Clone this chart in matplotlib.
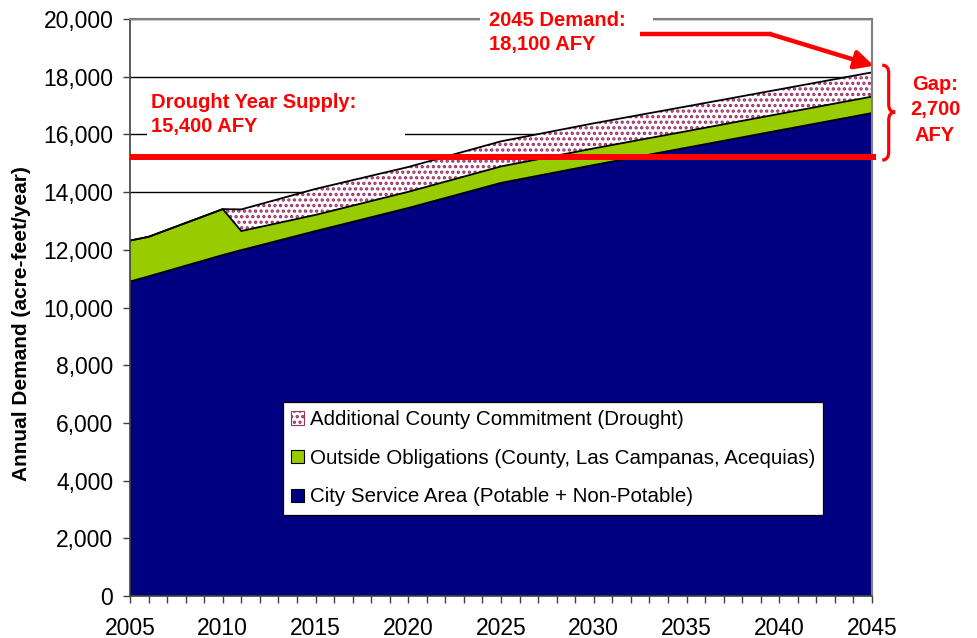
import matplotlib
import matplotlib.pyplot as plt
from matplotlib.patches import Rectangle, PathPatch, Patch
from matplotlib.path import Path
from matplotlib.ticker import FuncFormatter, MultipleLocator

matplotlib.rcParams['font.family'] = ['Liberation Sans', 'DejaVu Sans']
matplotlib.rcParams['hatch.linewidth'] = 1.6

# demand by year (acre-feet/year)
years = [2005, 2006, 2010, 2011, 2015, 2020, 2025, 2030, 2035, 2040, 2045]
city = [10900, 11080, 11820, 11990, 12650, 13450, 14320, 14940, 15540, 16140, 16740]
outside = [1420, 1370, 1590, 660, 560, 560, 570, 575, 570, 570, 570]
additional = [0, 0, 0, 750, 900, 860, 870, 870, 860, 850, 840]

series_names = ['City Service Area (Potable + Non-Potable)',
                'Outside Obligations (County, Las Campanas, Acequias)',
                'Additional County Commitment (Drought)']
supply_level = 15200
red = '#FF0000'
pink = '#993366'

green_top = [c + o for c, o in zip(city, outside)]
total = [g + a for g, a in zip(green_top, additional)]

fig = plt.figure(figsize=(9.77, 6.38), dpi=100)
ax = fig.add_axes([130 / 977, 42 / 638, 742 / 977, 577 / 638])


def fx(px):
    return px / 977


def fy(py):
    return 1 - py / 638


# stacked areas
ax.fill_between(years, 0, city, facecolor='#000080', linewidth=0, zorder=2)
ax.fill_between(years, city, green_top, facecolor='#99CC00', linewidth=0, zorder=2)
ax.fill_between(years, green_top, total, facecolor='white', edgecolor=pink,
                hatch='...', linewidth=0, zorder=2)
ax.plot(years, city, color='black', lw=1.3, zorder=2.2)
ax.plot(years, green_top, color='black', lw=1.3, zorder=2.2)
ax.plot(years, total, color='black', lw=1.3, zorder=2.2)

ax.set_xlim(2005, 2045)
ax.set_ylim(0, 20000)
ax.xaxis.set_major_locator(MultipleLocator(5))
ax.xaxis.set_minor_locator(MultipleLocator(1))
ax.yaxis.set_major_locator(MultipleLocator(2000))
ax.yaxis.set_major_formatter(FuncFormatter(lambda v, p: '{:,.0f}'.format(v)))
ax.tick_params(axis='both', which='both', labelsize=16.5, color='#404040',
               length=5, width=1)
ax.tick_params(axis='x', which='both', pad=10)
ax.tick_params(axis='y', pad=7)
ax.set_axisbelow(True)
ax.grid(axis='y', color='black', lw=1)
for s in ['left', 'bottom']:
    ax.spines[s].set_color('#404040')
    ax.spines[s].set_linewidth(1.2)
for s in ['top', 'right']:
    ax.spines[s].set_color('#808080')
    ax.spines[s].set_linewidth(1.5)

fig.text(fx(22), fy(324), 'Annual Demand (acre-feet/year)', rotation=90,
         ha='center', va='center', fontsize=15, fontweight='bold')

# white text boxes hiding the gridlines
ax.add_patch(Rectangle((fx(147), fy(150)), fx(405) - fx(147), fy(82) - fy(150),
                       transform=fig.transFigure, facecolor='white', edgecolor='none',
                       clip_on=False, zorder=2.7))
ax.add_patch(Rectangle((fx(480), fy(62)), fx(653) - fx(480), fy(4) - fy(62),
                       transform=fig.transFigure, facecolor='white', edgecolor='none',
                       clip_on=False, zorder=2.7))

fig.text(fx(151), fy(93), 'Drought Year Supply:\n15,400 AFY', ha='left', va='top',
         color=red, fontsize=14.5, fontweight='bold', linespacing=1.32, zorder=5)
fig.text(fx(489), fy(11), '2045 Demand:\n18,100 AFY', ha='left', va='top',
         color=red, fontsize=14.5, fontweight='bold', linespacing=1.32, zorder=5)
fig.text(fx(935), fy(110), 'Gap:\n2,700\nAFY', ha='center', va='center',
         multialignment='center', color=red, fontsize=14.5, fontweight='bold',
         linespacing=1.42)

# drought supply line
ax.plot([2005, 2045.2], [supply_level, supply_level], color=red, lw=4.3,
        solid_capstyle='butt', clip_on=False, zorder=4)

# arrow to 2045 demand
ax.plot([2032.5, 2039.6], [19480, 19480], color=red, lw=3.2,
        solid_capstyle='butt', clip_on=False, zorder=4)
ax.annotate('', xy=(2045.1, 18380), xytext=(2039.5, 19480),
            arrowprops=dict(arrowstyle='-|>', color=red, lw=3.2,
                            mutation_scale=28, shrinkA=0, shrinkB=0),
            annotation_clip=False, zorder=4)

# brace for gap
x0, xm, x1 = 2045.55, 2045.9, 2046.25
top, mid, bot, r = 18400, 16770, 15110, 280
verts = [(x0, top), (xm, top), (xm, top - r), (xm, mid + r), (xm, mid), (x1, mid),
         (xm, mid), (xm, mid - r), (xm, bot + r), (xm, bot), (x0, bot)]
codes = [Path.MOVETO, Path.CURVE3, Path.CURVE3, Path.LINETO, Path.CURVE3, Path.CURVE3,
         Path.CURVE3, Path.CURVE3, Path.LINETO, Path.CURVE3, Path.CURVE3]
ax.add_patch(PathPatch(Path(verts, codes), facecolor='none', edgecolor=red, lw=2.3,
                       clip_on=False, zorder=4))

# legend
handles = [Patch(facecolor='white', edgecolor=pink, hatch='...', lw=0.8),
           Patch(facecolor='#99CC00', edgecolor='black', lw=0.8),
           Patch(facecolor='#000080', edgecolor='black', lw=0.8)]
leg = ax.legend(handles, series_names[::-1], loc='upper left',
                bbox_to_anchor=(fx(283), fy(402)), bbox_transform=fig.transFigure,
                fontsize=14.8, frameon=True, fancybox=False, framealpha=1,
                edgecolor='black', borderpad=0.4, borderaxespad=0,
                labelspacing=0.95, handlelength=0.6, handleheight=0.6,
                handletextpad=0.3)
leg.get_frame().set_linewidth(0.9)
leg.set_zorder(6)

plt.savefig('out.png', dpi=100)
